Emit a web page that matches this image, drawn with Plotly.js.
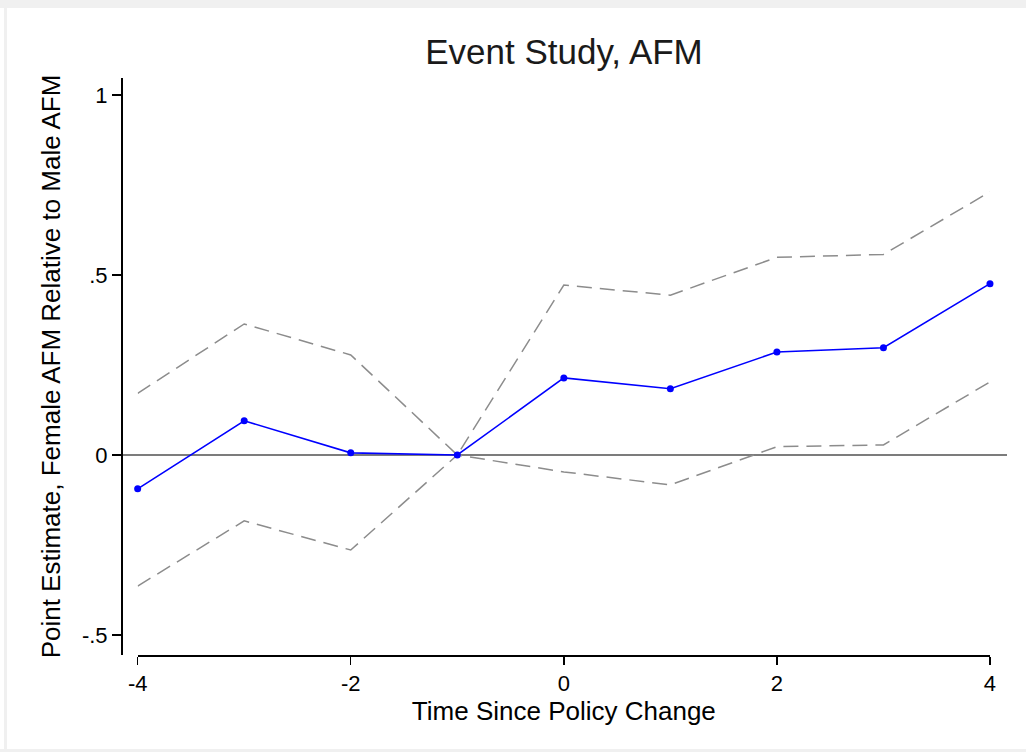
<!DOCTYPE html>
<html>
<head>
<meta charset="utf-8">
<script src="https://cdn.plot.ly/plotly-3.0.1.min.js"></script>
<style>
  html, body { margin: 0; padding: 0; background: #ffffff; }
  #wrap { position: relative; width: 1026px; height: 752px; overflow: hidden; }
  #chart { position: absolute; left: 0; top: 0; width: 1026px; height: 752px; }
  .band { position: absolute; background: #f0f0f0; }
</style>
</head>
<body>
<div id="wrap">
  <div id="chart"></div>
  <div class="band" style="left:0;top:0;width:1026px;height:8px;"></div>
  <div class="band" style="left:4px;top:0;width:3px;height:752px;"></div>
  <div class="band" style="left:0;top:749px;width:1026px;height:3px;"></div>
</div>
<script>
// Time since policy change
const periods = [-4, -3, -2, -1, 0, 1, 2, 3, 4];
// Point estimates
const estimate = [-0.094, 0.095, 0.006, 0.0, 0.214, 0.184, 0.286, 0.298, 0.476];
// Confidence interval bounds
const upperCI = [0.171, 0.364, 0.278, 0.0, 0.472, 0.444, 0.549, 0.557, 0.731];
const lowerCI = [-0.364, -0.183, -0.264, 0.0, -0.047, -0.083, 0.023, 0.028, 0.203];
// Tick labels
const xTickVals = [-4, -2, 0, 2, 4];
const xTickText = ['-4', '-2', '0', '2', '4'];
const yTickVals = [1, 0.5, 0, -0.5];
const yTickText = ['1', '.5', '0', '-.5'];

const fontFam = '"Liberation Sans", Arial, sans-serif';

const traces = [
  {
    x: periods, y: upperCI, type: 'scatter', mode: 'lines',
    line: { color: '#8c8c8c', width: 1.5, dash: '15px,8px' },
    cliponaxis: false, showlegend: false, hoverinfo: 'skip'
  },
  {
    x: periods, y: lowerCI, type: 'scatter', mode: 'lines',
    line: { color: '#8c8c8c', width: 1.5, dash: '15px,8px' },
    cliponaxis: false, showlegend: false, hoverinfo: 'skip'
  },
  {
    x: periods, y: estimate, type: 'scatter', mode: 'lines+markers',
    line: { color: '#0000ff', width: 1.6 },
    marker: { color: '#0000ff', size: 7 },
    cliponaxis: false, showlegend: false
  }
];

const layout = {
  width: 1026, height: 752,
  margin: { l: 121, r: 19, t: 78, b: 97, pad: 0 },
  paper_bgcolor: '#ffffff', plot_bgcolor: '#ffffff',
  font: { family: fontFam, color: '#000000' },
  title: {
    text: 'Event Study, AFM',
    font: { family: fontFam, size: 35, color: '#1a1a1a' },
    x: 0.5, xref: 'paper', xanchor: 'center',
    y: 1 - 52 / 752, yref: 'container', yanchor: 'middle'
  },
  xaxis: {
    domain: [0.0188, 0.9808],
    range: [-4, 4],
    anchor: 'free', position: 0,
    showline: true, linecolor: '#000000', linewidth: 1.5,
    showgrid: false, zeroline: false,
    ticks: 'outside', ticklen: 8, tickwidth: 1.5, tickcolor: '#000000',
    tickvals: xTickVals, ticktext: xTickText,
    tickfont: { family: fontFam, size: 22, color: '#000000' },
    title: { text: 'Time Since Policy Change', font: { family: fontFam, size: 26, color: '#000000' }, standoff: 0 }
  },
  yaxis: {
    domain: [0, 1],
    range: [-0.5556, 1.0472],
    anchor: 'free', position: 0,
    showline: true, linecolor: '#000000', linewidth: 1.5,
    showgrid: false, zeroline: false,
    ticks: 'outside', ticklen: 9, tickwidth: 1.5, tickcolor: '#000000',
    tickvals: yTickVals, ticktext: yTickText,
    tickfont: { family: fontFam, size: 22, color: '#000000' },
    title: { text: 'Point Estimate, Female AFM Relative to Male AFM', font: { family: fontFam, size: 26, color: '#000000' }, standoff: 12 }
  },
  shapes: [
    {
      type: 'line', xref: 'paper', yref: 'y',
      x0: 0, x1: 1, y0: 0, y1: 0,
      line: { color: '#505050', width: 1.5 },
      layer: 'below'
    }
  ]
};

Plotly.newPlot('chart', traces, layout, { displayModeBar: false, staticPlot: true });
</script>
</body>
</html>
